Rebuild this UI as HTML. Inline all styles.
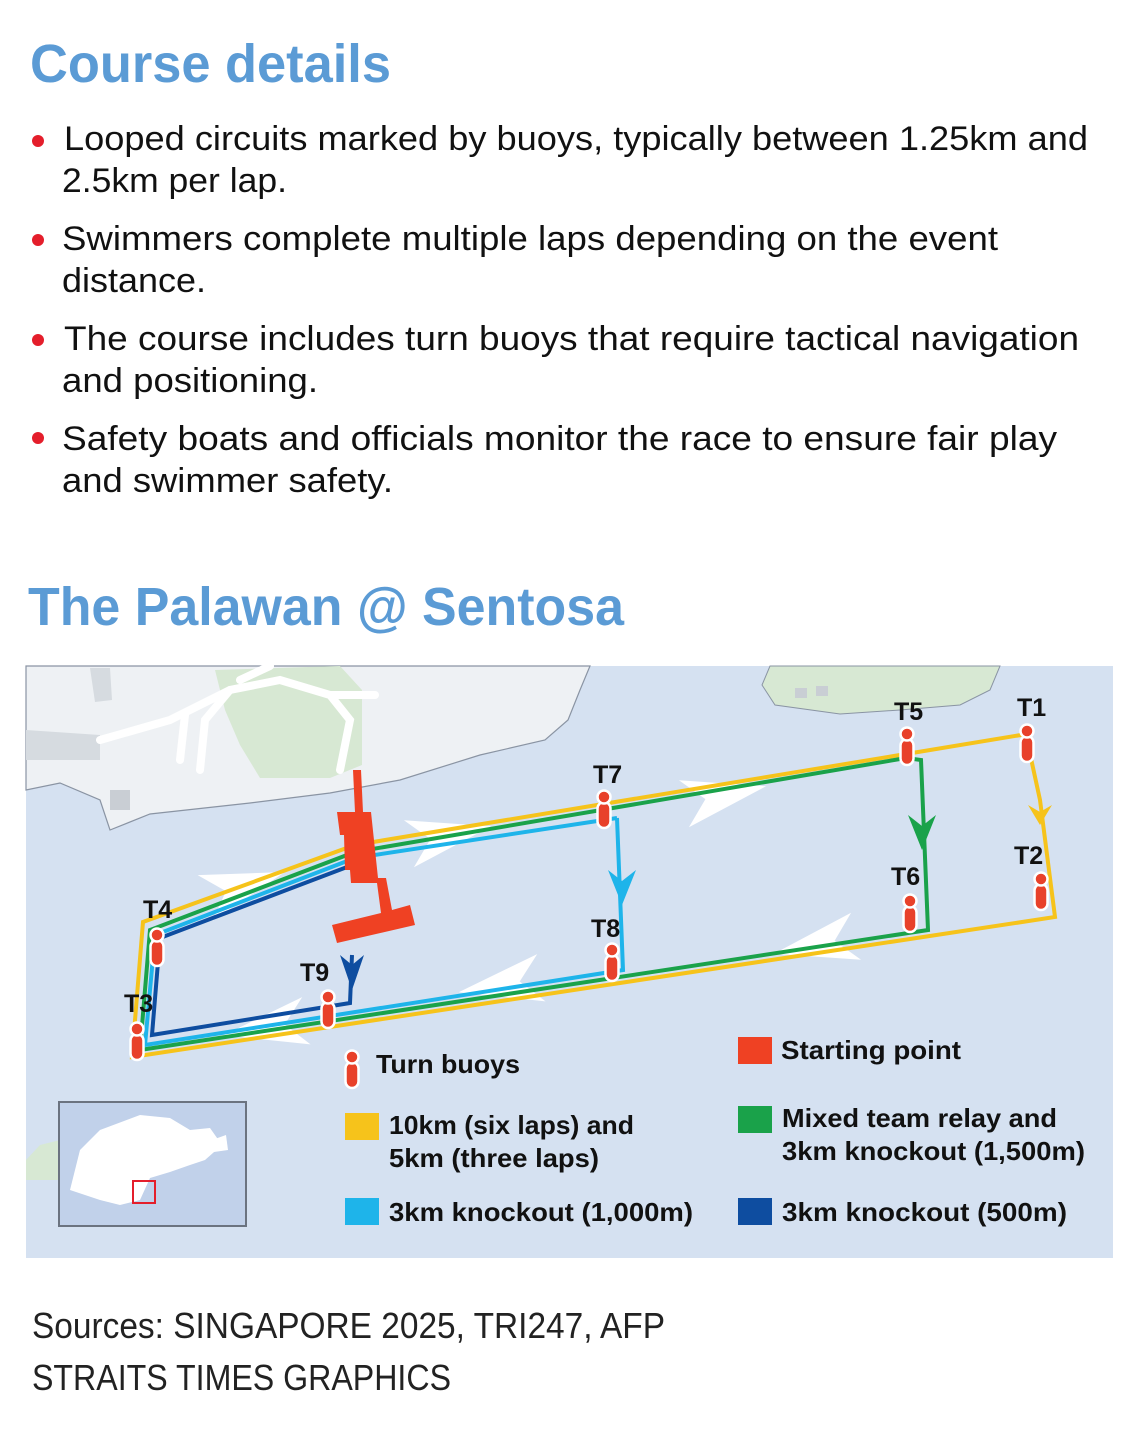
<!DOCTYPE html>
<html><head><meta charset="utf-8"><style>
html,body{margin:0;padding:0;background:#fff;}
svg{display:block;}
text{font-family:"Liberation Sans",sans-serif;}
.b{fill:#111;font-size:34px;}
.h{fill:#5b9bd5;font-weight:bold;font-size:54px;}
.l{fill:#111;font-weight:bold;font-size:26px;}
.t{fill:#111;font-weight:bold;font-size:25px;}
</style></head><body>
<svg width="1140" height="1429" viewBox="0 0 1140 1429" xmlns="http://www.w3.org/2000/svg">
<defs>
<g id="buoy"><rect x="-6.5" y="-6" width="13" height="26" rx="6.5" fill="#e8412a" stroke="#fff" stroke-width="2.5"/><circle cx="0" cy="-11" r="6.5" fill="#e8412a" stroke="#fff" stroke-width="2.5"/></g>
<path id="wa" d="M-42,-24 L42,0 L-42,24 L-20,0 Z" fill="#fff"/>
</defs>
<text class="h" x="30" y="82" textLength="361" lengthAdjust="spacingAndGlyphs">Course details</text>
<g fill="#e41e2b"><circle cx="38" cy="141" r="6"/><circle cx="38" cy="240" r="6"/><circle cx="38" cy="340" r="6"/><circle cx="38" cy="438" r="6"/></g>
<text class="b" x="64" y="150" textLength="1024" lengthAdjust="spacingAndGlyphs">Looped circuits marked by buoys, typically between 1.25km and</text>
<text class="b" x="62" y="192" textLength="225" lengthAdjust="spacingAndGlyphs">2.5km per lap.</text>
<text class="b" x="62" y="250" textLength="936" lengthAdjust="spacingAndGlyphs">Swimmers complete multiple laps depending on the event</text>
<text class="b" x="62" y="292" textLength="144" lengthAdjust="spacingAndGlyphs">distance.</text>
<text class="b" x="64" y="350" textLength="1015" lengthAdjust="spacingAndGlyphs">The course includes turn buoys that require tactical navigation</text>
<text class="b" x="62" y="392" textLength="256" lengthAdjust="spacingAndGlyphs">and positioning.</text>
<text class="b" x="62" y="450" textLength="995" lengthAdjust="spacingAndGlyphs">Safety boats and officials monitor the race to ensure fair play</text>
<text class="b" x="62" y="492" textLength="331" lengthAdjust="spacingAndGlyphs">and swimmer safety.</text>
<text class="h" x="28" y="625" textLength="596" lengthAdjust="spacingAndGlyphs">The Palawan @ Sentosa</text>

<!-- map -->
<rect x="26" y="666" width="1087" height="592" fill="#d5e1f1"/>
<path d="M26,666 L590,666 L580,690 L568,720 L545,740 L480,755 L400,780 L330,793 L250,803 L150,814 L110,830 L100,800 L60,783 L26,790 Z" fill="#eef1f4" stroke="#8a94a3" stroke-width="1.2"/>
<path d="M26,730 L100,735 L100,760 L26,760 Z" fill="#d6dbe0"/>
<path d="M90,668 L110,668 L112,700 L95,702 Z" fill="#d6dbe0"/>
<path d="M215,670 L340,666 L362,690 L362,765 L330,778 L260,778 L240,745 L225,710 Z" fill="#d7e8d3"/>
<g stroke="#fff" stroke-width="8" fill="none" stroke-linecap="round"><path d="M100,740 L170,720 L230,690 L280,680 L330,695 L350,720 L340,770"/><path d="M200,770 L205,720 L230,690"/><path d="M180,760 L185,715"/><path d="M330,695 L375,695"/><path d="M240,680 L270,666"/></g>
<rect x="110" y="790" width="20" height="20" fill="#c9ced4"/>
<path d="M770,666 L1000,666 L990,690 L960,705 L900,710 L840,714 L775,705 L762,685 Z" fill="#d7e8d3" stroke="#8a94a3" stroke-width="1"/>
<rect x="795" y="688" width="12" height="10" fill="#c9ced4"/><rect x="816" y="686" width="12" height="10" fill="#c9ced4"/>
<path d="M26,1160 L40,1145 L60,1140 L60,1180 L26,1180 Z" fill="#d7e8d3"/>

<!-- white flow arrows -->
<use href="#wa" transform="translate(725,795) rotate(-12)"/>
<use href="#wa" transform="translate(450,835) rotate(-12)"/>
<use href="#wa" transform="translate(245,885) rotate(-18)"/>
<use href="#wa" transform="translate(815,945) rotate(168)"/>
<use href="#wa" transform="translate(500,985) rotate(170)"/>
<use href="#wa" transform="translate(265,1028) rotate(170)"/>

<!-- routes -->
<g fill="none" stroke-width="4" stroke-linejoin="miter">
<path d="M1027,734 L355,845 L143,922 L132,1057 L1055,917 L1040,800 L1027,740" stroke="#f6c31b"/>
<path d="M906,758 L355,852 L150,930 L140,1050 L928,930 L921,760 L906,758" stroke="#1aa24a"/>
<path d="M617,818 L355,858 L155,935 L145,1045 L623,970 L617,818" stroke="#1eb4ea"/>
<path d="M355,864 L160,938 L152,1035 L350,1003 L352,955" stroke="#0e4da0"/>
</g>
<g>
<path d="M1040,825 L1028,805 L1040,812 L1052,805 Z" fill="#f6c31b"/>
<path d="M922,850 L908,815 L922,826 L936,815 Z" fill="#1aa24a"/>
<path d="M622,905 L608,870 L622,881 L636,870 Z" fill="#1eb4ea"/>
<path d="M352,990 L340,955 L352,965 L364,955 Z" fill="#0e4da0"/>
</g>
<!-- starting point -->
<path d="M353,770 L361,770 L363,812 L371,812 L378,878 L386,878 L392,910 L410,905 L415,925 L337,943 L332,925 L381,913 L377,883 L351,883 L350,870 L345,870 L344,835 L340,835 L337,812 L355,812 Z" fill="#ef4123"/>

<!-- buoys -->
<use href="#buoy" x="1027" y="742"/><use href="#buoy" x="907" y="745"/><use href="#buoy" x="604" y="808"/>
<use href="#buoy" x="1041" y="890"/><use href="#buoy" x="910" y="912"/><use href="#buoy" x="612" y="961"/>
<use href="#buoy" x="328" y="1008"/><use href="#buoy" x="157" y="946"/><use href="#buoy" x="137" y="1040"/>
<text class="t" x="1017" y="716">T1</text><text class="t" x="894" y="720">T5</text><text class="t" x="593" y="783">T7</text>
<text class="t" x="1014" y="864">T2</text><text class="t" x="891" y="885">T6</text><text class="t" x="591" y="937">T8</text>
<text class="t" x="300" y="981">T9</text><text class="t" x="143" y="918">T4</text><text class="t" x="124" y="1012">T3</text>

<!-- legend -->
<use href="#buoy" x="352" y="1068"/>
<text class="l" x="376" y="1073" textLength="144" lengthAdjust="spacingAndGlyphs">Turn buoys</text>
<rect x="345" y="1113" width="34" height="27" fill="#f6c31b"/>
<text class="l" x="389" y="1134" textLength="245" lengthAdjust="spacingAndGlyphs">10km (six laps) and</text>
<text class="l" x="389" y="1167" textLength="210" lengthAdjust="spacingAndGlyphs">5km (three laps)</text>
<rect x="345" y="1198" width="34" height="27" fill="#1eb4ea"/>
<text class="l" x="389" y="1221" textLength="304" lengthAdjust="spacingAndGlyphs">3km knockout (1,000m)</text>
<rect x="738" y="1037" width="34" height="27" fill="#ef4123"/>
<text class="l" x="781" y="1059" textLength="180" lengthAdjust="spacingAndGlyphs">Starting point</text>
<rect x="738" y="1106" width="34" height="27" fill="#1aa24a"/>
<text class="l" x="782" y="1127" textLength="275" lengthAdjust="spacingAndGlyphs">Mixed team relay and</text>
<text class="l" x="782" y="1160" textLength="303" lengthAdjust="spacingAndGlyphs">3km knockout (1,500m)</text>
<rect x="738" y="1198" width="34" height="27" fill="#0e4da0"/>
<text class="l" x="782" y="1221" textLength="285" lengthAdjust="spacingAndGlyphs">3km knockout (500m)</text>

<!-- inset -->
<rect x="59" y="1102" width="187" height="124" fill="#c1d1ea" stroke="#6b7380" stroke-width="2"/>
<path d="M70,1190 L80,1150 L100,1130 L140,1115 L170,1118 L190,1130 L210,1128 L222,1145 L205,1160 L190,1165 L170,1172 L150,1178 L140,1200 L120,1205 L100,1200 L85,1195 Z" fill="#fff"/>
<path d="M212,1140 L226,1135 L228,1150 L214,1152 Z" fill="#fff"/>
<rect x="133" y="1181" width="22" height="22" fill="none" stroke="#e41e2b" stroke-width="2"/>

<text x="32" y="1338" style="font-size:36px;fill:#222" textLength="633" lengthAdjust="spacingAndGlyphs">Sources: SINGAPORE 2025, TRI247, AFP</text>
<text x="32" y="1390" style="font-size:36px;fill:#222" textLength="419" lengthAdjust="spacingAndGlyphs">STRAITS TIMES GRAPHICS</text>
</svg>
</body></html>
